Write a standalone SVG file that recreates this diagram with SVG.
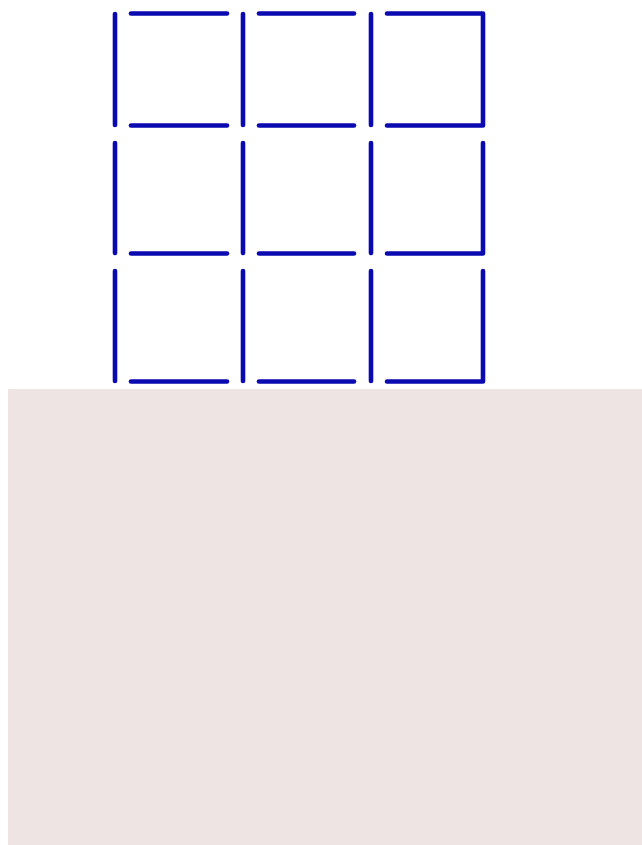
<svg xmlns="http://www.w3.org/2000/svg" width="642" height="845" viewBox="0 0 642 845">
<style>
.s{fill:none;stroke:#0a0ab0;stroke-width:4.6;stroke-linecap:round;stroke-linejoin:round}
</style>
<rect width="642" height="845" fill="#ffffff"/>
<rect id="panel" x="8" y="389" width="634" height="456" fill="#eee4e3"/>
<g id="grid" class="s">
<g id="row1">
<path d="M115,14V125"/><path d="M131,13.5H227"/><path d="M131,125.5H227"/>
<path d="M243,14V125"/><path d="M259,13.5H354"/><path d="M259,125.5H354"/>
<path d="M371,14V125"/><path d="M387,13.5H483V125.5H387"/>
</g>
<g id="row2">
<path d="M115,143V253"/><path d="M131,253.5H227"/>
<path d="M243,143V253"/><path d="M259,253.5H354"/>
<path d="M371,143V253"/><path d="M483,143V253.5H387"/>
</g>
<g id="row3">
<path d="M115,271V381"/><path d="M131,381.5H227"/>
<path d="M243,271V381"/><path d="M259,381.5H354"/>
<path d="M371,271V381"/><path d="M483,271V381.5H387"/>
</g>
</g>
</svg>
